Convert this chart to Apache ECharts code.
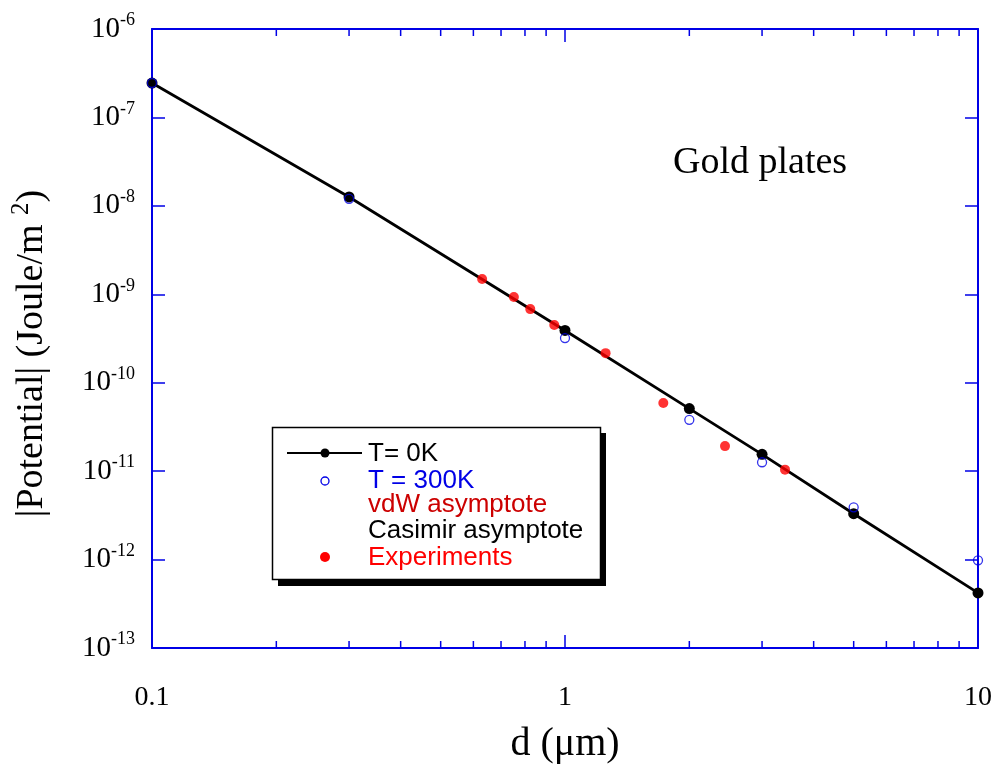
<!DOCTYPE html>
<html>
<head>
<meta charset="utf-8">
<script src="https://cdn.jsdelivr.net/npm/echarts@6/dist/echarts.min.js"></script>
<style>html,body{margin:0;padding:0;background:#fff}#c{width:999px;height:767px}</style>
</head>
<body>
<div id="c"></div>
<script>
// Data
const dT0 = [0.1, 0.3, 1, 2, 3, 5, 10];
const vT0 = [2.45e-7, 1.26e-8, 3.9e-10, 5.1e-11, 1.55e-11, 3.3e-12, 4.2e-13];
const dT300 = [0.1, 0.3, 1, 2, 3, 5, 10];
const vT300 = [2.45e-7, 1.2e-8, 3.2e-10, 3.8e-11, 1.26e-11, 3.9e-12, 9.8e-13];
const dExp = [0.63, 0.752, 0.824, 0.942, 1.254, 1.73, 2.44, 3.41];
const vExp = [1.49e-9, 9.3e-10, 6.8e-10, 4.5e-10, 2.16e-10, 5.9e-11, 1.92e-11, 1.04e-11];
const minorX = [0.2, 0.3, 0.4, 0.5, 0.6, 0.7, 0.8, 0.9, 2, 3, 4, 5, 6, 7, 8, 9];
const xMin = 0.1, xMax = 10, yMin = 1e-13, yMax = 1e-6;

const blue = '#0000e6';
const serif = 'Liberation Serif';

const chart = echarts.init(document.getElementById('c'));
const zip = (a, b) => a.map((v, i) => [v, b[i]]);

const axisCommon = {
  type: 'log', logBase: 10,
  axisLine: { show: true, lineStyle: { color: blue, width: 2 } },
  axisTick: { show: true, inside: true, length: 13, lineStyle: { color: blue, width: 1.5 } },
  splitLine: { show: false },
  minorTick: { show: false }
};

chart.setOption({
  animation: false,
  backgroundColor: '#fff',
  grid: { left: 152, right: 21, top: 29, bottom: 119, containLabel: false, outerBoundsMode: 'none' },
  xAxis: [
    Object.assign({}, axisCommon, {
      position: 'bottom', min: xMin, max: xMax, interval: 1,
      axisLabel: { color: '#000', fontFamily: serif, fontSize: 28, margin: 36,
        formatter: v => (v < 1 ? v.toFixed(1) : String(Math.round(v))) },
      name: 'd (μm)', nameLocation: 'middle', nameGap: 76,
      nameTextStyle: { color: '#000', fontFamily: serif, fontSize: 40 }
    }),
    Object.assign({}, axisCommon, {
      position: 'top', min: xMin, max: xMax, interval: 1,
      axisLabel: { show: false }
    })
  ],
  yAxis: [
    Object.assign({}, axisCommon, {
      position: 'left', min: yMin, max: yMax, interval: 1,
      axisLabel: { margin: 17, color: '#000',
        formatter: v => '{b|10}{s|' + Math.round(Math.log10(v)) + '}',
        rich: {
          b: { fontFamily: serif, fontSize: 29, color: '#000' },
          s: { fontFamily: serif, fontSize: 18, color: '#000', padding: [0, 0, 17, 0] }
        }
      },
      name: '|Potential| (Joule/m {s|2})', nameLocation: 'middle', nameGap: 96, nameRotate: 90,
      nameTextStyle: { color: '#000', fontFamily: serif, fontSize: 38, padding: [0, 30, 0, 0],
        rich: { s: { fontFamily: serif, fontSize: 25, color: '#000', padding: [0, 0, 22, 0] } } }
    }),
    Object.assign({}, axisCommon, {
      position: 'right', min: yMin, max: yMax, interval: 1,
      axisLabel: { show: false }
    })
  ],
  graphic: [
    { type: 'text', left: 673, top: 144, style: { text: 'Gold plates', font: '38px "Liberation Serif"', fill: '#000' } },
    { type: 'rect', shape: { x: 278, y: 433, width: 328, height: 153 }, style: { fill: '#000' }, z: 10 },
    { type: 'rect', shape: { x: 272.5, y: 427.5, width: 328, height: 152 }, style: { fill: '#fff', stroke: '#000', lineWidth: 1.5 }, z: 11 },
    { type: 'line', shape: { x1: 287, y1: 453, x2: 362, y2: 453 }, style: { stroke: '#000', lineWidth: 2 }, z: 12 },
    { type: 'circle', shape: { cx: 325, cy: 453, r: 4.5 }, style: { fill: '#000' }, z: 12 },
    { type: 'circle', shape: { cx: 325, cy: 481, r: 4 }, style: { fill: 'none', stroke: blue, lineWidth: 1.3 }, z: 12 },
    { type: 'circle', shape: { cx: 325, cy: 557, r: 5 }, style: { fill: '#ff0000' }, z: 12 },
    { type: 'text', x: 368, y: 454, style: { text: 'T= 0K', font: '26px "Liberation Sans"', fill: '#000', verticalAlign: 'middle' }, z: 12 },
    { type: 'text', x: 368, y: 481, style: { text: 'T = 300K', font: '26px "Liberation Sans"', fill: blue, verticalAlign: 'middle' }, z: 12 },
    { type: 'text', x: 368, y: 505, style: { text: 'vdW asymptote', font: '26px "Liberation Sans"', fill: '#cc0000', verticalAlign: 'middle' }, z: 12 },
    { type: 'text', x: 368, y: 531, style: { text: 'Casimir asymptote', font: '26px "Liberation Sans"', fill: '#000', verticalAlign: 'middle' }, z: 12 },
    { type: 'text', x: 368, y: 558, style: { text: 'Experiments', font: '26px "Liberation Sans"', fill: '#ff0000', verticalAlign: 'middle' }, z: 12 }
  ],
  series: [
    {
      type: 'custom', name: 'minor ticks', xAxisIndex: 0, yAxisIndex: 0, silent: true, clip: false, z: 1,
      data: minorX.map(v => [v, yMin]),
      renderItem: (params, api) => {
        const b = api.coord([api.value(0), yMin]);
        const t = api.coord([api.value(0), yMax]);
        return { type: 'group', children: [
          { type: 'line', shape: { x1: b[0], y1: b[1], x2: b[0], y2: b[1] - 7 }, style: { stroke: blue, lineWidth: 1.5 } },
          { type: 'line', shape: { x1: t[0], y1: t[1], x2: t[0], y2: t[1] + 7 }, style: { stroke: blue, lineWidth: 1.5 } }
        ] };
      }
    },
    {
      type: 'line', name: 'T= 0K', data: zip(dT0, vT0), xAxisIndex: 0, yAxisIndex: 0,
      lineStyle: { color: '#000', width: 2.8 }, itemStyle: { color: '#000' },
      symbol: 'circle', symbolSize: 11, clip: false, z: 3
    },
    {
      type: 'scatter', name: 'T = 300K', data: zip(dT300, vT300), xAxisIndex: 0, yAxisIndex: 0,
      symbol: 'circle', symbolSize: 9, clip: false, z: 4,
      itemStyle: { color: 'rgba(0,0,0,0)', borderColor: blue, borderWidth: 1.3 }
    },
    {
      type: 'scatter', name: 'Experiments', data: zip(dExp, vExp), xAxisIndex: 0, yAxisIndex: 0,
      symbol: 'circle', symbolSize: 10, clip: false, z: 5,
      itemStyle: { color: '#ff0000' }
    }
  ]
});
</script>
</body>
</html>
